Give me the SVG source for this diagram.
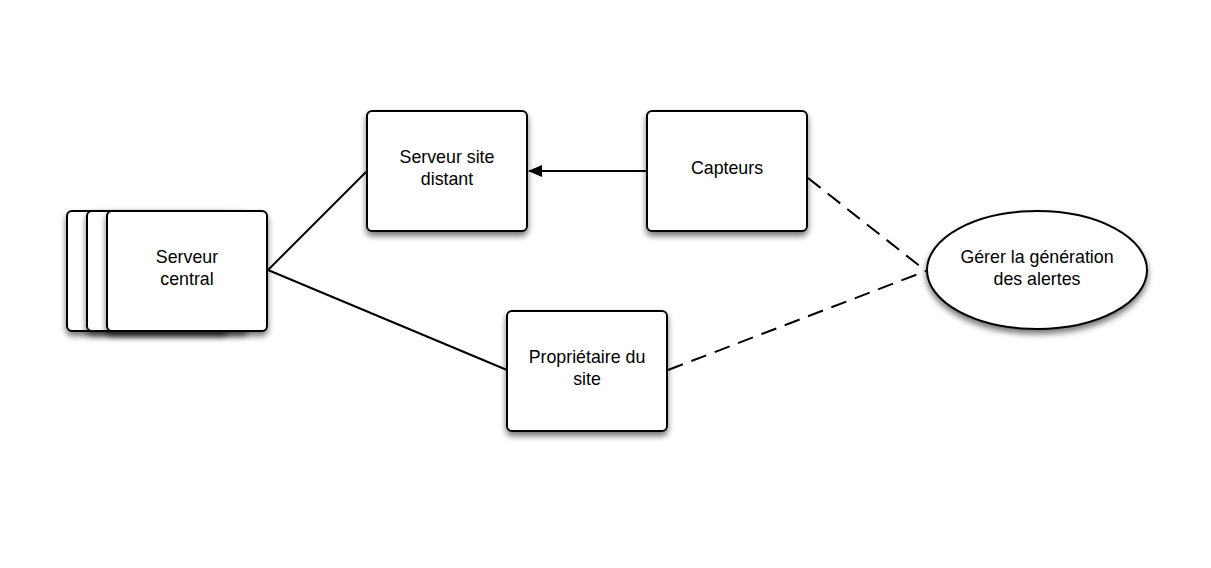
<svg xmlns="http://www.w3.org/2000/svg" width="1211" height="568" viewBox="0 0 1211 568">
<style>
.box{fill:#fff;stroke:#000;stroke-width:2;filter:url(#sh)}
.t{font-family:"Liberation Sans",Arial,sans-serif;font-size:17.8px;fill:#000;text-anchor:middle}
.c{fill:none;stroke:#000;stroke-width:2}
.d{stroke-dasharray:16,9}
</style>
<defs>
<filter id="sh" x="-20%" y="-20%" width="140%" height="150%">
<feGaussianBlur in="SourceAlpha" stdDeviation="3"/>
<feOffset dx="0" dy="4" result="b"/>
<feComponentTransfer><feFuncA type="linear" slope="0.55"/></feComponentTransfer>
<feMerge><feMergeNode/><feMergeNode in="SourceGraphic"/></feMerge>
</filter>
<marker id="arr" markerWidth="14" markerHeight="12" refX="13" refY="6" orient="auto" markerUnits="userSpaceOnUse">
<path d="M0,0 L14,6 L0,12 Z" fill="#000"/>
</marker>
</defs>
<rect width="1211" height="568" fill="#fff"/>
<g id="connectors">
<line class="c" x1="268" y1="270" x2="367" y2="171"/>
<line class="c" x1="268" y1="270" x2="507" y2="370"/>
<line class="c" x1="647" y1="171" x2="529" y2="171" marker-end="url(#arr)"/>
<line class="c d" x1="808" y1="178" x2="926" y2="271"/>
<line class="c d" x1="668" y1="370" x2="926" y2="271"/>
</g>
<g id="serveur-central">
<rect class="box" x="67" y="211" width="160" height="120" rx="5"/>
<rect class="box" x="87" y="211" width="160" height="120" rx="5"/>
<rect class="box" x="107" y="211" width="160" height="120" rx="5"/>
<text class="t" x="187" y="263">Serveur</text>
<text class="t" x="187" y="285">central</text>
</g>
<g id="serveur-site-distant">
<rect class="box" x="367" y="111" width="160" height="120" rx="5"/>
<text class="t" x="447" y="163">Serveur site</text>
<text class="t" x="447" y="185">distant</text>
</g>
<g id="capteurs">
<rect class="box" x="647" y="111" width="160" height="120" rx="5"/>
<text class="t" x="727" y="174">Capteurs</text>
</g>
<g id="proprietaire">
<rect class="box" x="507" y="311" width="160" height="120" rx="5"/>
<text class="t" x="587" y="363">Propriétaire du</text>
<text class="t" x="587" y="385">site</text>
</g>
<g id="gerer-alertes">
<ellipse class="box" cx="1037" cy="270" rx="110" ry="59"/>
<text class="t" x="1037" y="263">Gérer la génération</text>
<text class="t" x="1037" y="285">des alertes</text>
</g>
</svg>
